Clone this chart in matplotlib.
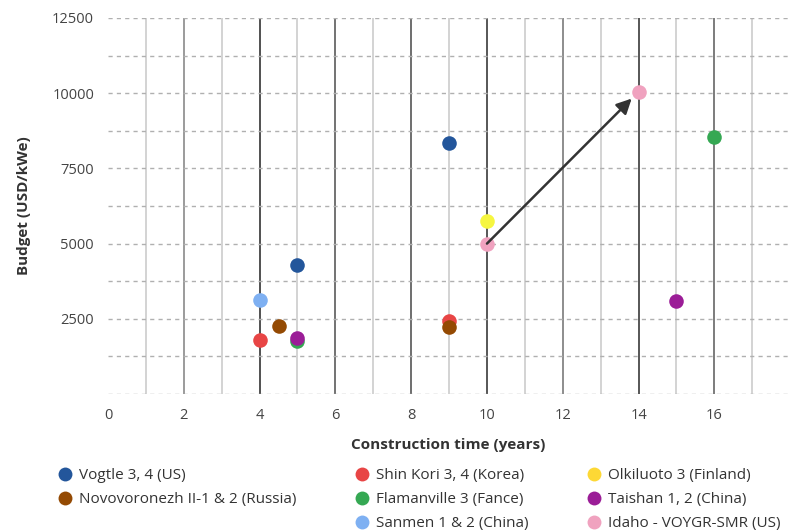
import matplotlib.pyplot as plt
from matplotlib.lines import Line2D

# 各项目：建设年限与单位造价
names = ["Vogtle 3, 4 (US)", "Shin Kori 3, 4 (Korea)", "Olkiluoto 3 (Finland)",
         "Novovoronezh II-1 & 2 (Russia)", "Flamanville 3 (Fance)", "Taishan 1, 2 (China)",
         "Sanmen 1 & 2 (China)", "Idaho - VOYGR-SMR (US)"]
years = [[5, 9], [4, 9], [10], [4.5, 9], [5, 16], [5, 15], [4], [10, 14]]
budget = [[4280, 8360], [1800, 2420], [5740], [2250, 2230], [1770, 8530], [1870, 3080],
          [3120], [5000, 10050]]
colors = ["#23569b", "#e84545", "#f6f640", "#944a03", "#35a853", "#9b1d97",
          "#7eb0f2", "#f0a2bf"]
legend_colors = {"Olkiluoto 3 (Finland)": "#fdd835"}

plt.rcParams['font.family'] = ['Open Sans', 'DejaVu Sans']

fig = plt.figure(figsize=(7.89, 5.30), dpi=100)
ax = fig.add_axes([108 / 789, 1 - 394 / 530, 1 - 108 / 789, 376 / 530])

# 竖线：偶数年深色，奇数年浅色
even_shades = {2: "#8a8a8a", 4: "#333333", 6: "#5a5a5a", 8: "#555555",
               10: "#3a3a3a", 12: "#7a7a7a", 14: "#3a3a3a", 16: "#666666"}
for x in range(1, 18):
    ax.axvline(x, color=even_shades.get(x, "#cccccc"), lw=1.2, zorder=1)
# 横向虚线
for y in range(0, 12501, 1250):
    ax.axhline(y, color="#b0b0b0", lw=1, ls=(0, (3, 3)), zorder=1)

handles = {}
for n, xs, ys, c in zip(names, years, budget, colors):
    ax.scatter(xs, ys, s=110, color=c, zorder=3, linewidths=0)
    handles[n] = Line2D([], [], ls="", marker="o", markersize=10,
                        markerfacecolor=legend_colors.get(n, c), markeredgewidth=0)

# Idaho 两个点之间的箭头
ax.annotate("", xy=(14, 10050), xytext=(10, 5000),
            arrowprops=dict(arrowstyle="-|>,head_length=0.9,head_width=0.45",
                            color="#333333", lw=1.8, shrinkA=0, shrinkB=7),
            zorder=4)

ax.set_xlim(0, 17.97)
ax.set_ylim(0, 12500)
ax.set_xticks(range(0, 17, 2))
ax.set_yticks(range(2500, 12501, 2500))
ax.tick_params(length=0, labelsize=10.5, labelcolor="#444444", pad=10)
for s in ax.spines.values():
    s.set_visible(False)

ax.set_xlabel("Construction time (years)", fontsize=11, fontweight="bold",
              color="#333333", labelpad=11)
ax.set_ylabel("Budget (USD/kWe)", fontsize=11, fontweight="bold",
              color="#333333", labelpad=15)

blank = Line2D([], [], ls="", marker="")
order = ["Vogtle 3, 4 (US)", "Novovoronezh II-1 & 2 (Russia)", None,
         "Shin Kori 3, 4 (Korea)", "Flamanville 3 (Fance)", "Sanmen 1 & 2 (China)",
         "Olkiluoto 3 (Finland)", "Taishan 1, 2 (China)", "Idaho - VOYGR-SMR (US)"]
leg = fig.legend([handles[n] if n else blank for n in order],
                 [n if n else "" for n in order],
                 ncol=3, loc="upper left", bbox_to_anchor=(59 / 789, 1 - 468 / 530),
                 frameon=False, fontsize=11, labelcolor="#333333",
                 handlelength=0.8, handletextpad=0.5, columnspacing=3.9,
                 labelspacing=0.6, borderaxespad=0, borderpad=0)

fig.savefig("out.png", dpi=100)
